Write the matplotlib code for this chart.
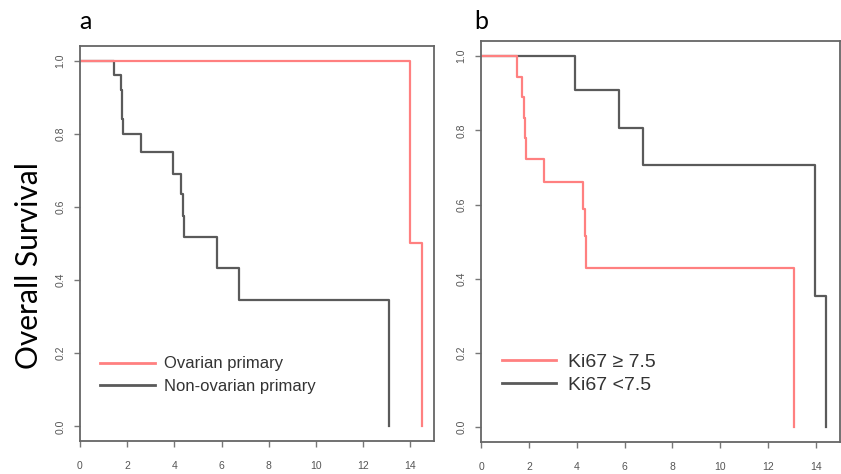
import matplotlib
matplotlib.use("Agg")
import matplotlib.pyplot as plt

# Panel a: survival by primary site
a_ovarian_t = [0, 14.0, 14.5]
a_ovarian_s = [1.0, 0.5, 0.0]
a_nonov_t = [0, 1.44, 1.74, 1.76, 1.80, 1.83, 2.57, 3.93, 4.28, 4.35, 4.42, 5.79, 6.75, 13.08]
a_nonov_s = [1.0, 0.96, 0.92, 0.88, 0.84, 0.80, 0.75, 0.69, 0.634, 0.576, 0.519, 0.434, 0.346, 0.0]

# Panel b: survival by Ki67
b_high_t = [0, 1.5, 1.72, 1.78, 1.83, 1.89, 2.61, 4.26, 4.33, 4.38, 13.08]
b_high_s = [1.0, 0.944, 0.889, 0.833, 0.778, 0.722, 0.662, 0.589, 0.515, 0.43, 0.0]
b_low_t = [0, 3.92, 5.76, 6.76, 13.96, 14.43]
b_low_s = [1.0, 0.908, 0.807, 0.706, 0.353, 0.0]

x_ticks = [0, 2, 4, 6, 8, 10, 12, 14]
y_ticks = [0.0, 0.2, 0.4, 0.6, 0.8, 1.0]

RED = "#ff8080"
GREY = "#5a5a5a"
ARIAL = ["Liberation Sans", "DejaVu Sans"]

fig = plt.figure(figsize=(8.41, 4.74), dpi=100)
ax_a = fig.add_axes([0.0951, 0.0696, 0.4209, 0.8334])
ax_b = fig.add_axes([0.572, 0.0675, 0.4268, 0.8454])


def style_axis(ax):
    ax.set_xlim(0, 15)
    ax.set_ylim(-0.04, 1.04)
    ax.set_xticks(x_ticks)
    ax.set_yticks(y_ticks)
    ax.set_xticklabels([str(v) for v in x_ticks], family=ARIAL)
    ax.set_yticklabels([f"{v:.1f}" for v in y_ticks], rotation=90, va="center",
                       family=ARIAL)
    for sp in ax.spines.values():
        sp.set_color("#666666")
        sp.set_linewidth(1.3)
    ax.tick_params(colors="#777777", labelcolor="#555555", labelsize=7.5,
                   length=4.5, width=1.0)
    ax.tick_params(axis="x", pad=10)
    ax.tick_params(axis="y", pad=6)


def km(ax, t, s, color):
    ax.step(t, s, where="post", color=color, lw=1.6)


km(ax_a, a_nonov_t, a_nonov_s, GREY)
km(ax_a, a_ovarian_t, a_ovarian_s, RED)
style_axis(ax_a)
ax_a.legend(handles=[plt.Line2D([], [], color=RED, lw=2),
                     plt.Line2D([], [], color=GREY, lw=2)],
            labels=["Ovarian primary", "Non-ovarian primary"],
            loc="upper left", bbox_to_anchor=(0.014, 0.252), frameon=False,
            prop={"family": ARIAL, "size": 12}, handlelength=3.3,
            handletextpad=0.55, labelspacing=0.45, labelcolor="#333333")

km(ax_b, b_low_t, b_low_s, GREY)
km(ax_b, b_high_t, b_high_s, RED)
style_axis(ax_b)
ax_b.legend(handles=[plt.Line2D([], [], color=RED, lw=2),
                     plt.Line2D([], [], color=GREY, lw=2)],
            labels=["Ki67 \u2265 7.5", "Ki67 <7.5"],
            loc="upper left", bbox_to_anchor=(0.009, 0.266), frameon=False,
            prop={"family": ARIAL, "size": 14}, handlelength=2.8,
            handletextpad=0.6, labelspacing=0.3, labelcolor="#333333")

fig.text(0.034, 0.439, "Overall Survival", rotation=90, va="center", ha="center",
         fontsize=21.5, family="Lato", color="black")
fig.text(0.094, 0.955, "a", fontsize=18, family="Lato", ha="left", va="center")
fig.text(0.564, 0.955, "b", fontsize=18, family="Lato", ha="left", va="center")

fig.savefig("out.png", dpi=100)
